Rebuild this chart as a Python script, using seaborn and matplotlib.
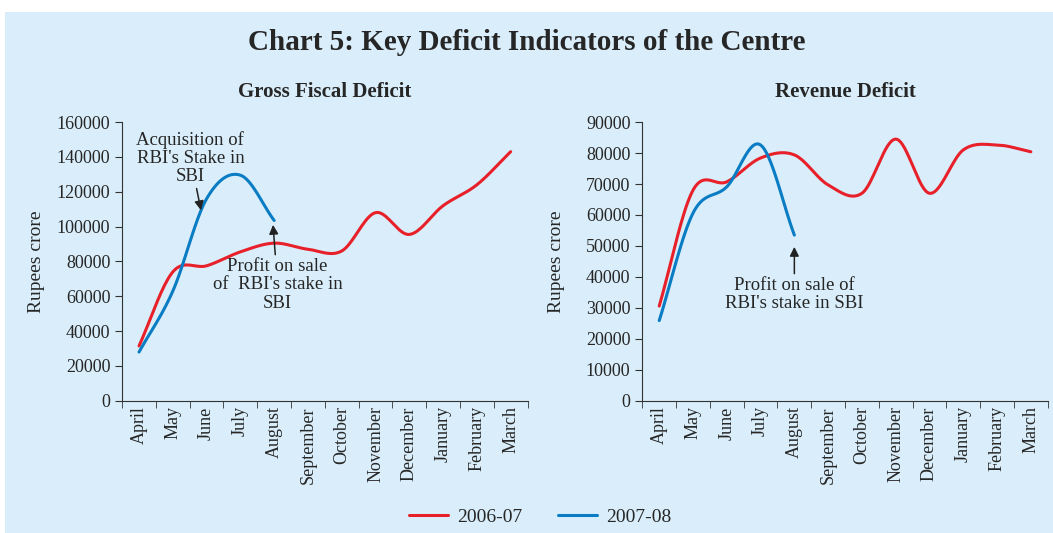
import numpy as np
import pandas as pd
import seaborn as sns
import matplotlib.pyplot as plt

months = ['April', 'May', 'June', 'July', 'August', 'September', 'October',
          'November', 'December', 'January', 'February', 'March']

# Gross Fiscal Deficit (Rs crore)
gfd_2006 = [31500, 74000, 77500, 85500, 90500, 87000, 86000, 108000, 95500, 112000, 124000, 143000]
gfd_2007 = [28000, 63000, 116000, 129500, 103500]

# Revenue Deficit (Rs crore)
rd_2006 = [30600, 68000, 70700, 78400, 79400, 69700, 67000, 84500, 67000, 81000, 82600, 80400]
rd_2007 = [25900, 60600, 69100, 82600, 53500]

RED = '#e8202a'
BLUE = '#0a7cc4'
BG = '#d9eefa'


def smooth(vals, n=20):
    # Catmull-Rom style smoothing, like a spreadsheet's smoothed line
    y = np.asarray(vals, dtype=float)
    x = np.arange(len(y), dtype=float)
    px = np.concatenate([[2 * x[0] - x[1]], x, [2 * x[-1] - x[-2]]])
    py = np.concatenate([[2 * y[0] - y[1]], y, [2 * y[-1] - y[-2]]])
    xs, ys = [], []
    for i in range(1, len(px) - 2):
        t = np.linspace(0, 1, n, endpoint=False)
        for arr, out in ((px, xs), (py, ys)):
            p0, p1, p2, p3 = arr[i - 1], arr[i], arr[i + 1], arr[i + 2]
            out.extend(0.5 * ((2 * p1) + (-p0 + p2) * t
                              + (2 * p0 - 5 * p1 + 4 * p2 - p3) * t ** 2
                              + (-p0 + 3 * p1 - 3 * p2 + p3) * t ** 3))
    xs.append(x[-1]); ys.append(y[-1])
    return pd.DataFrame({'x': xs, 'y': ys})


sns.set_style('ticks')
plt.rcParams['font.family'] = ['Liberation Serif', 'DejaVu Serif']

fig = plt.figure(figsize=(10.53, 5.33), dpi=100)
fig.patch.set_facecolor('white')
fig.patches.append(plt.Rectangle((0.005, 0.0), 0.995, 0.977, transform=fig.transFigure,
                                 facecolor=BG, edgecolor='none', zorder=-10))

ax1 = fig.add_axes([0.116, 0.248, 0.385, 0.523])
ax2 = fig.add_axes([0.610, 0.248, 0.385, 0.523])

for ax, s06, s07, ymax, step, title in (
        (ax1, gfd_2006, gfd_2007, 160000, 20000, 'Gross Fiscal Deficit'),
        (ax2, rd_2006, rd_2007, 90000, 10000, 'Revenue Deficit')):
    ax.set_facecolor(BG)
    sns.lineplot(data=smooth(s06), x='x', y='y', color=RED, lw=2.2, ax=ax, label='2006-07', sort=False)
    sns.lineplot(data=smooth(s07), x='x', y='y', color=BLUE, lw=2.2, ax=ax, label='2007-08', sort=False)
    ax.set_xlim(-0.5, 11.5)
    ax.set_ylim(0, ymax)
    ax.set_yticks(np.arange(0, ymax + 1, step))
    ax.set_yticklabels([f'{int(v)}' for v in np.arange(0, ymax + 1, step)], fontsize=13)
    ax.set_xticks(range(12))
    ax.set_xticklabels(months, rotation=90, fontsize=13)
    ax.set_xticks(np.arange(-0.5, 12, 1), minor=True)
    ax.tick_params(axis='x', which='major', length=0, pad=4)
    ax.tick_params(axis='x', which='minor', length=5, color='#333333')
    ax.tick_params(axis='y', length=5, color='#333333')
    for sp in ('top', 'right'):
        ax.spines[sp].set_visible(False)
    for sp in ('left', 'bottom'):
        ax.spines[sp].set_color('#333333')
    ax.set_xlabel('')
    ax.set_ylabel('Rupees crore', fontsize=14)
    ax.set_title(title, fontsize=15, fontweight='bold', pad=18)
    ax.get_legend().remove()

ax1.yaxis.set_label_coords(-0.19, 0.5)
ax2.yaxis.set_label_coords(-0.19, 0.5)

ax1.annotate("Acquisition of\nRBI's Stake in\nSBI", xy=(1.85, 107800), xytext=(1.52, 155000),
             ha='center', va='top', fontsize=13.5, linespacing=1.1,
             arrowprops=dict(arrowstyle='-|>', color='#222222', lw=1.1, shrinkA=30))
ax1.annotate("Profit on sale\nof  RBI's stake in\nSBI", xy=(3.96, 102600), xytext=(4.1, 82000),
             ha='center', va='top', fontsize=13.5, linespacing=1.1,
             arrowprops=dict(arrowstyle='-|>', color='#222222', lw=1.1, shrinkA=0))
ax2.annotate("Profit on sale of\nRBI's stake in SBI", xy=(4.0, 50600), xytext=(4.0, 40000),
             ha='center', va='top', fontsize=13.5, linespacing=1.1,
             arrowprops=dict(arrowstyle='-|>', color='#222222', lw=1.1, shrinkA=0))

fig.text(0.5, 0.92, 'Chart 5: Key Deficit Indicators of the Centre', ha='center', va='center',
         fontsize=21, fontweight='bold')

handles, labels = ax1.get_legend_handles_labels()
fig.legend(handles, labels, loc='center', bbox_to_anchor=(0.513, 0.03), ncol=2, frameon=False,
           fontsize=14, handlelength=2.0, handletextpad=0.5, columnspacing=1.8)

fig.savefig('out.png', dpi=100, facecolor=fig.get_facecolor())
